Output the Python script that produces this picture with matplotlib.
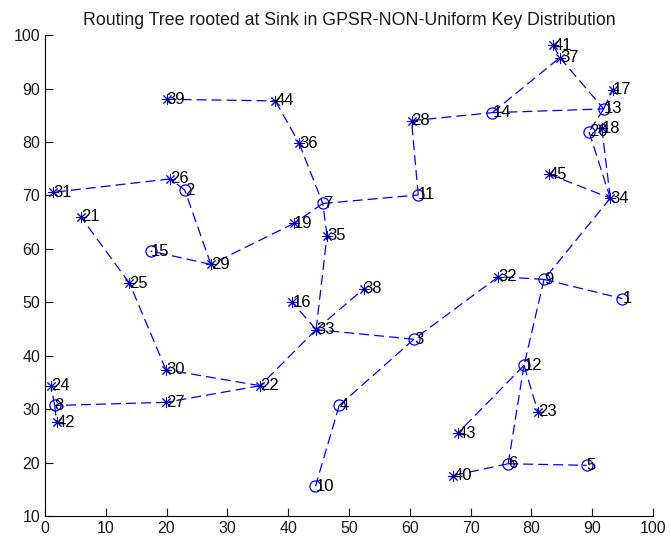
import matplotlib
matplotlib.use("Agg")
import matplotlib.pyplot as plt

plt.rcParams['font.family'] = ['Liberation Sans', 'DejaVu Sans']

# node ids, positions and marker type ('o' = key holder, '*' = other)
node_ids = list(range(1, 46))
node_x = [95.0, 23.0, 60.7, 48.4, 89.1, 76.2, 45.7, 1.6, 82.1, 44.5,
          61.4, 78.8, 91.9, 73.6, 17.4, 40.7, 93.4, 91.6, 41.0, 89.5,
          5.9, 35.4, 81.1, 1.0, 13.9, 20.6, 19.9, 60.3, 27.3, 19.9,
          1.4, 74.6, 44.6, 93.0, 46.4, 41.8, 84.7, 52.4, 20.0, 67.2,
          83.6, 1.9, 67.9, 37.9, 82.9]
node_y = [50.7, 71.0, 43.1, 30.7, 19.5, 19.8, 68.5, 30.7, 54.3, 15.6,
          70.1, 38.2, 86.2, 85.5, 59.6, 50.0, 89.8, 82.6, 64.8, 81.9,
          66.0, 34.4, 29.5, 34.4, 53.6, 73.1, 31.3, 84.0, 57.1, 37.4,
          70.6, 54.8, 44.9, 69.5, 62.5, 79.8, 95.8, 52.5, 88.0, 17.6,
          98.1, 27.6, 25.5, 87.7, 74.0]
node_marker = ['o', 'o', 'o', 'o', 'o', 'o', 'o', 'o', 'o', 'o',
               'o', 'o', 'o', 'o', 'o', '*', '*', '*', '*', 'o',
               '*', '*', '*', '*', '*', '*', '*', '*', '*', '*',
               '*', '*', '*', '*', '*', '*', '*', '*', '*', '*',
               '*', '*', '*', '*', '*']

# routing tree links
edges = [(39, 44), (44, 36), (36, 7), (7, 11), (11, 28), (28, 14), (14, 13),
         (14, 37), (37, 13), (41, 37), (13, 17), (13, 20), (20, 34), (18, 34),
         (45, 34), (34, 9), (9, 32), (9, 1), (9, 12), (12, 6), (12, 23),
         (12, 43), (6, 40), (6, 5), (32, 3), (3, 33), (3, 4), (4, 10),
         (33, 16), (33, 35), (33, 38), (33, 22), (22, 30), (22, 27), (27, 8),
         (8, 24), (8, 42), (30, 25), (25, 21), (7, 19), (19, 29), (29, 2),
         (29, 15), (2, 26), (26, 31), (35, 7)]

fig = plt.figure(figsize=(6.71, 5.41), dpi=100)
ax = fig.add_axes([0.067, 0.046, 0.906, 0.889])

for a, b in edges:
    ax.plot([node_x[a - 1], node_x[b - 1]], [node_y[a - 1], node_y[b - 1]],
            color='blue', linestyle=(0, (8, 4)), linewidth=0.9)

for i, n in enumerate(node_ids):
    if node_marker[i] == 'o':
        ax.plot(node_x[i], node_y[i], marker='o', markersize=8,
                markerfacecolor='none', markeredgecolor='blue', markeredgewidth=0.9)
    else:
        ax.plot(node_x[i], node_y[i], marker=(8, 2, 0), markersize=8,
                color='blue', markeredgewidth=0.7)
        ax.plot(node_x[i], node_y[i], marker='.', markersize=3, color='#000080')
    ax.text(node_x[i], node_y[i], str(n), fontsize=12, color='black',
            ha='left', va='center')

ax.set_xlim(0, 100)
ax.set_ylim(10, 100)
ax.set_xticks(range(0, 101, 10))
ax.set_yticks(range(10, 101, 10))
ax.spines['top'].set_visible(False)
ax.spines['right'].set_visible(False)
ax.tick_params(direction='in', length=6, labelsize=11.5, colors='#1a1a1a')
ax.set_title('Routing Tree rooted at Sink in GPSR-NON-Uniform Key Distribution',
             fontsize=12.8, color='#1a1a1a', pad=7)

fig.savefig('out.png', dpi=100)
